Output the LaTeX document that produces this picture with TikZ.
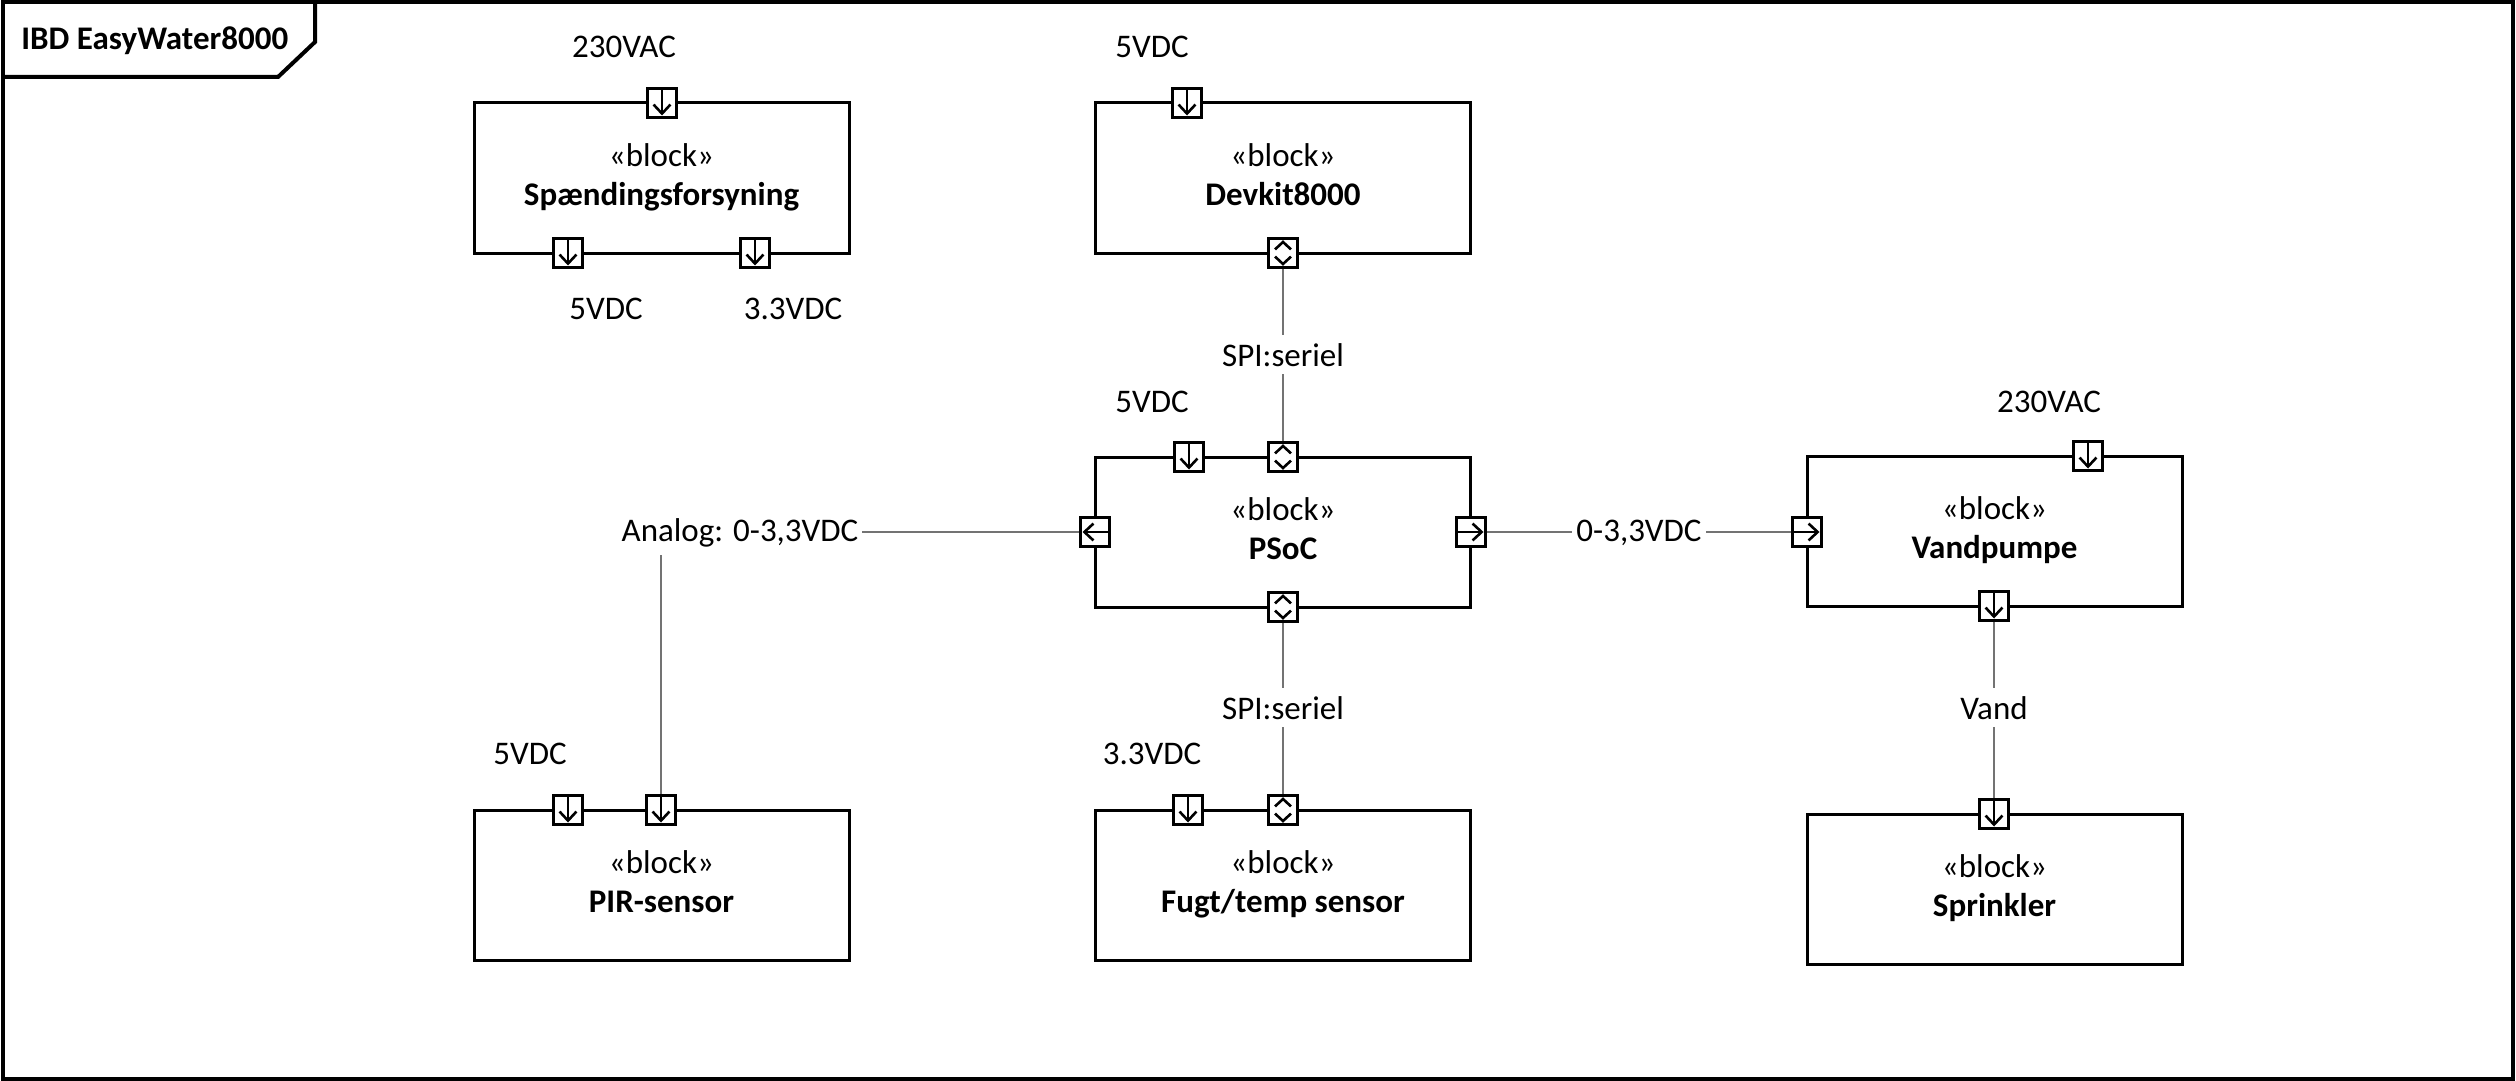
\documentclass[tikz,border=0pt]{standalone}
\usepackage{fontspec}
\setmainfont{Carlito}
\newcommand\ppc{path picture bounding box.center}
\begin{document}
\begin{tikzpicture}[x=0.5pt,y=-0.5pt,
  txt/.style={font=\fontsize{16.5}{19.5}\selectfont},
  block/.style={txt, draw, line width=1.5pt, minimum width=187.5pt, minimum height=75pt, inner sep=0pt, align=center, text depth=3.5pt},
  port/.style={draw, line width=1.3pt, fill=white, minimum size=14.5pt, inner sep=0pt},
  parr/.style={line width=1.3pt},
  pdown/.style={port, path picture={
     \draw[parr] ([yshift=7pt]\ppc) -- ([yshift=-5.3pt]\ppc);
     \draw[parr] ([shift={(-4.2pt,-0.8pt)}]\ppc) -- ([yshift=-5.3pt]\ppc) -- ([shift={(4.2pt,-0.8pt)}]\ppc);}},
  pleft/.style={port, path picture={
     \draw[parr] ([xshift=7pt]\ppc) -- ([xshift=-5.3pt]\ppc);
     \draw[parr] ([shift={(-0.8pt,4.2pt)}]\ppc) -- ([xshift=-5.3pt]\ppc) -- ([shift={(-0.8pt,-4.2pt)}]\ppc);}},
  pright/.style={port, path picture={
     \draw[parr] ([xshift=-7pt]\ppc) -- ([xshift=5.3pt]\ppc);
     \draw[parr] ([shift={(0.8pt,4.2pt)}]\ppc) -- ([xshift=5.3pt]\ppc) -- ([shift={(0.8pt,-4.2pt)}]\ppc);}},
  pbi/.style={port, path picture={
     \draw[parr] ([shift={(-4pt,1.8pt)}]\ppc) -- ([yshift=5.5pt]\ppc) -- ([shift={(4pt,1.8pt)}]\ppc);
     \draw[parr] ([shift={(-4pt,-1.8pt)}]\ppc) -- ([yshift=-5.5pt]\ppc) -- ([shift={(4pt,-1.8pt)}]\ppc);}},
  lbl/.style={txt, anchor=base, inner sep=0pt},
  clbl/.style={txt, anchor=base, fill=white, inner xsep=2pt, inner ysep=4pt},
  conn/.style={line width=0.8pt, draw=black!55},
  frame/.style={line width=2pt}
]
\useasboundingbox (0,0) rectangle (2516,1081);
% frame
\draw[frame] (2.5,2.5) rectangle (2513,1078.5);
\draw[frame] (2.5,77) -- (278,77) -- (315,42) -- (315,2.5);
\node[txt, anchor=base west, inner sep=0pt, font=\fontsize{16.5}{19.5}\selectfont\bfseries] (title) at (21,50) {IBD EasyWater8000};

% blocks
\node[block] (spd) at (661.5,178) {«block»\\\textbf{Spændingsforsyning}};
\node[block] (dev) at (1283,178) {«block»\\\textbf{Devkit8000}};
\node[block] (psoc) at (1283,532) {«block»\\\textbf{PSoC}};
\node[block] (pump) at (1994.5,531) {«block»\\\textbf{Vandpumpe}};
\node[block] (pir) at (661.5,885) {«block»\\\textbf{PIR-sensor}};
\node[block] (fugt) at (1283,885) {«block»\\\textbf{Fugt/temp sensor}};
\node[block] (spr) at (1994.5,889) {«block»\\\textbf{Sprinkler}};

% ports
\node[pdown] (spdt) at (662,103) {};
\node[pdown] (spdb1) at (568,253) {};
\node[pdown] (spdb2) at (755,253) {};
\node[pdown] (devt) at (1187,103) {};
\node[pbi] (devb) at (1283,253) {};
\node[pdown] (psoct1) at (1189,457) {};
\node[pbi] (psoct2) at (1283,457) {};
\node[pleft] (psocl) at (1095,532) {};
\node[pright] (psocr) at (1471,532) {};
\node[pbi] (psocb) at (1283,607) {};
\node[pdown] (pumpt) at (2088,456) {};
\node[pright] (pumpl) at (1807,532) {};
\node[pdown] (pumpb) at (1994,606) {};
\node[pdown] (sprt) at (1994,814) {};
\node[pdown] (pirt1) at (568,810) {};
\node[pdown] (pirt2) at (661,810) {};
\node[pdown] (fugtt1) at (1188,810) {};
\node[pbi] (fugtt2) at (1283,810) {};

% port labels
\node[lbl] (l1) at (624,57.5) {230VAC};
\node[lbl] (l2) at (606,319) {5VDC};
\node[lbl] (l3) at (793,319) {3.3VDC};
\node[lbl] (l4) at (1152,57.5) {5VDC};
\node[lbl] (l5) at (1152,412.5) {5VDC};
\node[lbl] (l6) at (2049,412) {230VAC};
\node[lbl] (l7) at (530,764.5) {5VDC};
\node[lbl] (l8) at (1152,764.5) {3.3VDC};

% connectors
\draw[conn] (devb.south) -- (psoct2.north);
\draw[conn] (psocb.south) -- (fugtt2.north);
\draw[conn] (psocl.west) -| (pirt2.north);
\draw[conn] (psocr.east) -- (pumpl.west);
\draw[conn] (pumpb.south) -- (sprt.north);

% connector labels
\node[clbl] (c1) at (1283,366) {SPI:seriel};
\node[clbl] (c2) at (1283,719) {SPI:seriel};
\node[clbl] (c3) at (740,541) {Analog: 0-3,3VDC};
\node[clbl] (c4) at (1639,541) {0-3,3VDC};
\node[clbl] (c5) at (1994,719) {Vand};
\end{tikzpicture}
\end{document}
